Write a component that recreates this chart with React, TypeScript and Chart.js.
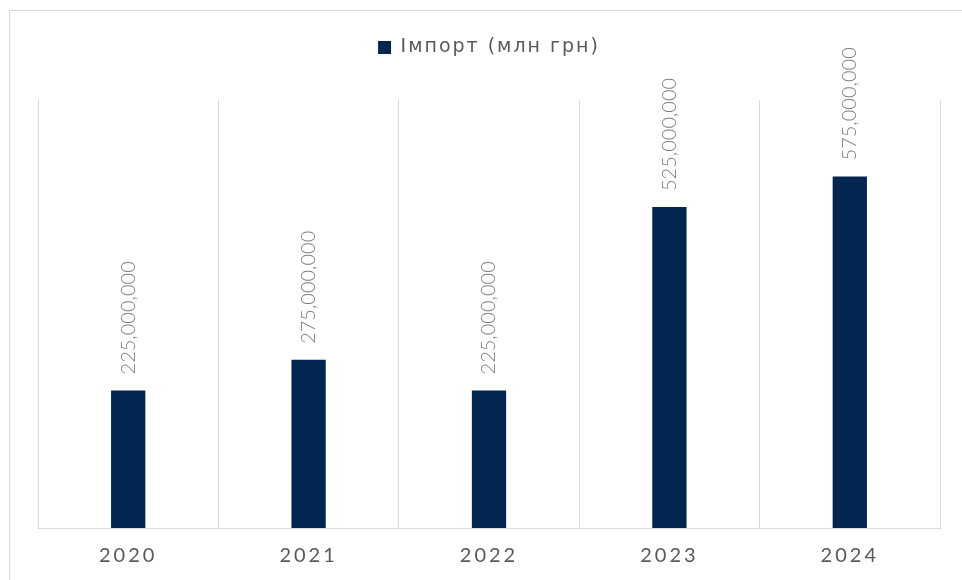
import React, { useEffect, useRef } from 'react';
import { Chart, registerables } from 'chart.js';

Chart.register(...registerables);

const categories = ['2020', '2021', '2022', '2023', '2024'];
const importValues = [225000000, 275000000, 225000000, 525000000, 575000000];
const seriesLabel = 'Імпорт (млн грн)';
const yMin = 0;
const yMax = 700000000;

const CANVAS_W = 952;
const CANVAS_H = 569;

export default function App() {
  const ref = useRef<HTMLCanvasElement>(null);

  useEffect(() => {
    const canvas = ref.current;
    if (!canvas) return;
    const fmt = (v: number) => v.toLocaleString('en-US');

    const customPlugin = {
      id: 'customDraw',
      afterInit(chart: any) {
        const lg = chart.legend;
        if (lg) {
          const orig = lg.fit;
          lg.fit = function () {
            (this.ctx as any).letterSpacing = '2px';
            orig.call(this);
            (this.ctx as any).letterSpacing = '0px';
            this.height = 89;
          };
        }
      },
      beforeDraw(chart: any) {
        (chart.ctx as any).letterSpacing = '2px';
      },
      afterDatasetsDraw(chart: any) {
        const ctx = chart.ctx;
        ctx.save();
        (ctx as any).letterSpacing = '0px';
        ctx.font = '300 20px Lato';
        ctx.fillStyle = '#7f7f7f';
        ctx.textAlign = 'left';
        ctx.textBaseline = 'middle';
        const meta = chart.getDatasetMeta(0);
        meta.data.forEach((bar: any, i: number) => {
          const v = chart.data.datasets[0].data[i] as number;
          ctx.save();
          ctx.translate(bar.x, bar.y - 16);
          ctx.rotate(-Math.PI / 2);
          ctx.fillText(fmt(v), 0, 0);
          ctx.restore();
        });
        ctx.restore();
        (ctx as any).letterSpacing = '3px';
      },
      afterDraw(chart: any) {
        (chart.ctx as any).letterSpacing = '0px';
      },
    };

    const chart = new Chart(canvas, {
      type: 'bar',
      data: {
        labels: categories,
        datasets: [
          {
            label: seriesLabel,
            data: importValues,
            backgroundColor: '#032650',
            borderWidth: 0,
            categoryPercentage: 1,
            barPercentage: 0.19,
          },
        ],
      },
      options: {
        responsive: false,
        maintainAspectRatio: false,
        animation: false,
        devicePixelRatio: 1,
        layout: { padding: { left: 28, right: 22, top: 0, bottom: 0 } },
        plugins: {
          legend: {
            display: true,
            position: 'top',
            labels: {
              boxWidth: 13,
              boxHeight: 13,
              padding: 27,
              color: '#595959',
              font: { family: 'DejaVu Sans', size: 19, weight: 'normal' },
            },
          },
          tooltip: { enabled: false },
        },
        scales: {
          x: {
            grid: {
              display: true,
              color: '#d9d9d9',
              lineWidth: 1,
              drawTicks: false,
              offset: true,
            },
            border: { display: true, color: '#d9d9d9', width: 1 },
            ticks: {
              color: '#595959',
              font: { family: 'Lato', size: 20 },
              padding: 16,
              z: 1,
            },
            afterFit(scale: any) {
              scale.height = 52;
            },
          },
          y: {
            display: false,
            min: yMin,
            max: yMax,
          },
        },
      },
      plugins: [customPlugin],
    } as any);

    return () => {
      chart.destroy();
    };
  }, []);

  return (
    <div
      style={{
        position: 'fixed',
        left: 9,
        top: 10,
        width: CANVAS_W + 1,
        height: CANVAS_H + 1,
        borderTop: '1px solid #d9d9d9',
        borderLeft: '1px solid #d9d9d9',
        boxSizing: 'border-box',
        background: '#ffffff',
      }}
    >
      <canvas
        ref={ref}
        width={CANVAS_W}
        height={CANVAS_H}
        style={{ display: 'block', width: CANVAS_W, height: CANVAS_H }}
      />
    </div>
  );
}
